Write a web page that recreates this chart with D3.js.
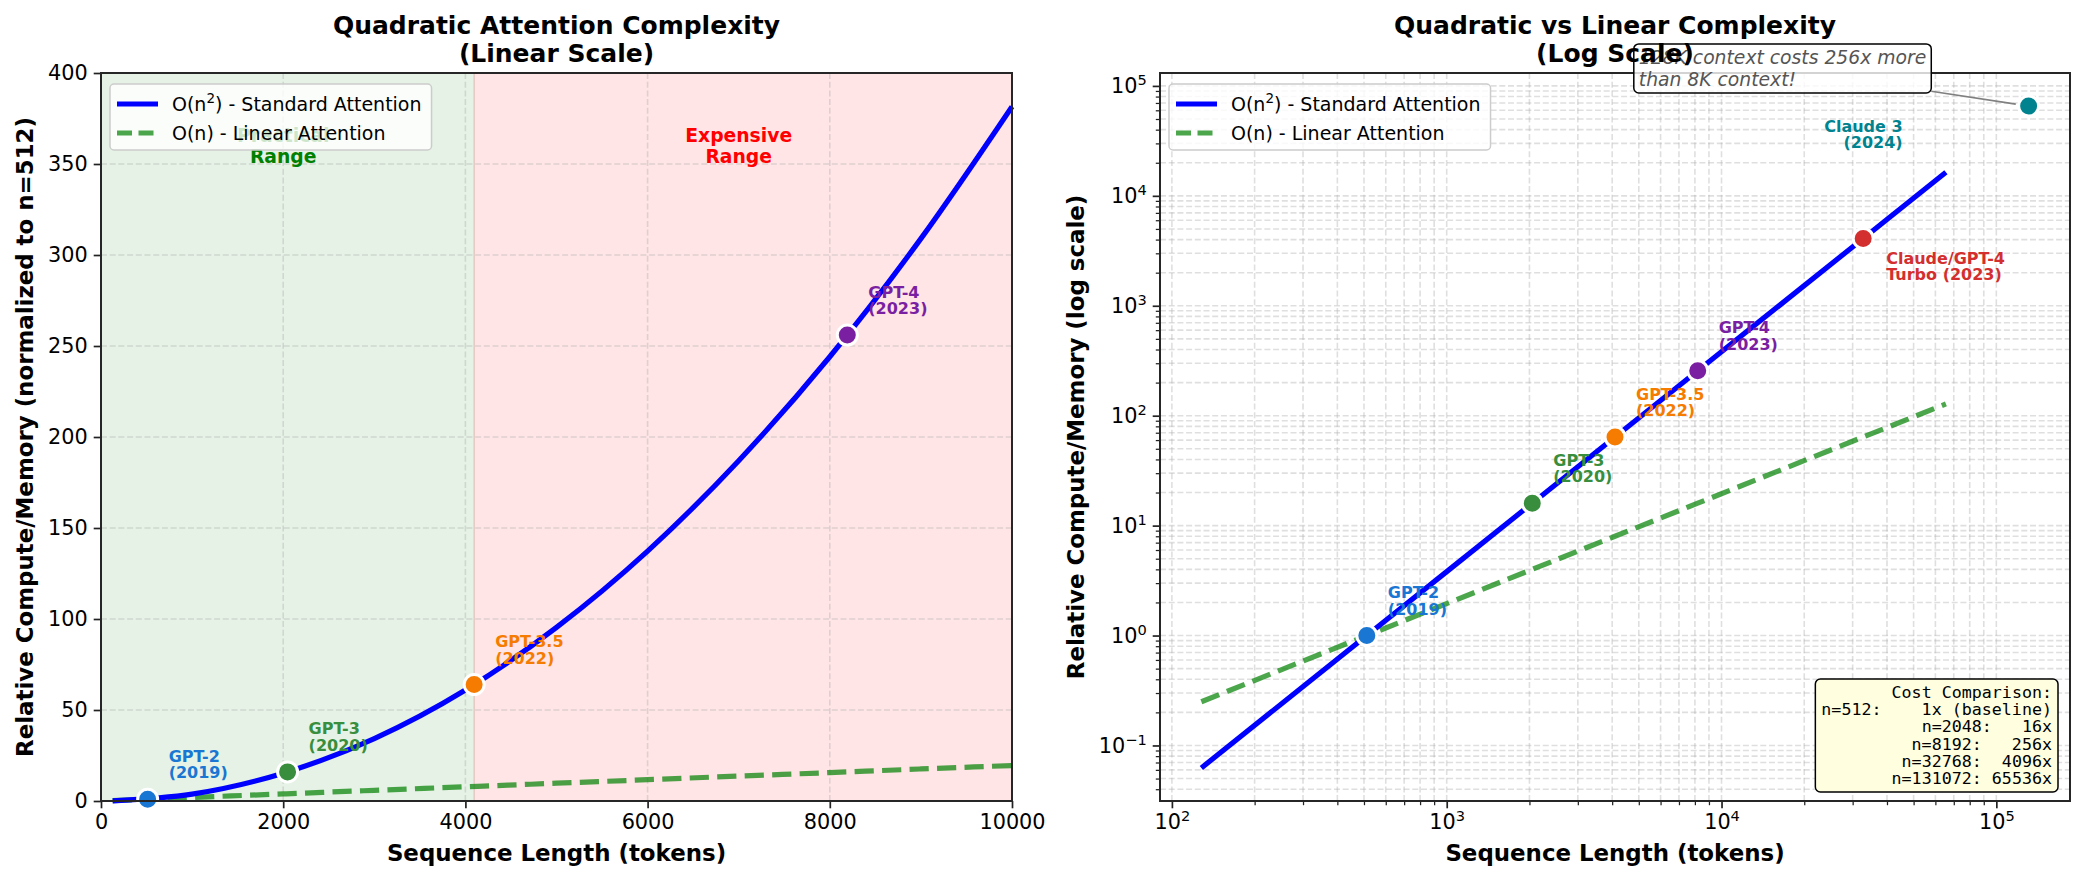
<!DOCTYPE html>
<html>
<head>
<meta charset="utf-8">
<script src="https://cdn.jsdelivr.net/npm/d3@7"></script>
<style>
  body { margin: 0; background: #fff; }
  svg text { font-family: "DejaVu Sans", sans-serif; }
</style>
</head>
<body>
<svg id="chart" width="2086" height="886"></svg>
<script>
// ---------------- data ----------------
// left panel (linear axes)
var linSeq   = [128, 1000, 2000, 3000, 4000, 5000, 6000, 7000, 8000, 9000, 10000];
var linQuad  = [0.06, 3.8, 15.3, 34.3, 61.0, 95.4, 137.3, 187.0, 244.1, 309.0, 381.5];
var linLin   = [0.25, 1.95, 3.9, 5.86, 7.81, 9.77, 11.7, 13.7, 15.6, 17.6, 19.5];

// right panel (log axes)
var logSeq   = [128, 256, 512, 1024, 2048, 4096, 8192, 16384, 32768, 65536];
var logQuad  = [0.0625, 0.25, 1, 4, 16, 64, 256, 1024, 4096, 16384];
var logLin   = [0.25, 0.5, 1, 2, 4, 8, 16, 32, 64, 128];

// model context windows
var modelLabels  = ["GPT-2\n(2019)", "GPT-3\n(2020)", "GPT-3.5\n(2022)", "GPT-4\n(2023)",
                    "Claude/GPT-4\nTurbo (2023)", "Claude 3\n(2024)"];
var modelContext = [512, 2048, 4096, 8192, 32768, 131072];
var modelCost    = [1, 16, 64, 256, 4096, 65536];
var modelColors  = ["#1976D2", "#388E3C", "#F57C00", "#7B1FA2", "#D32F2F", "#00838F"];

var leftXTicks = [0, 2000, 4000, 6000, 8000, 10000];
var leftYTicks = [0, 50, 100, 150, 200, 250, 300, 350, 400];

var costLines = ["Cost Comparison:", "n=512:    1x (baseline)", "n=2048:   16x",
                 "n=8192:   256x", "n=32768:  4096x", "n=131072: 65536x"];
var noteLines = ["128K context costs 256x more", "than 8K context!"];
var notePos = [5000, 1e5];

// ---------------- layout ----------------
var svg = d3.select("#chart");
var L = { x0: 101, x1: 1012, y0: 73, y1: 801 };
var R = { x0: 1160, x1: 2070, y0: 73, y1: 801 };

var gridStyle = function(sel) {
    sel.attr("stroke", "#b0b0b0").attr("stroke-opacity", 0.4)
       .attr("stroke-width", 1.6).attr("stroke-dasharray", "6,2.7");
};

function pairs(xs, ys) { return xs.map(function(v, i) { return [v, ys[i]]; }); }

// ================= LEFT PANEL =================
var xL = d3.scaleLinear().domain([0, 10000]).range([L.x0, L.x1]);
var yL = d3.scaleLinear().domain([0, 400]).range([L.y1, L.y0]);
var gL = svg.append("g");

// shaded ranges
gL.append("rect").attr("x", xL(0)).attr("y", L.y0)
    .attr("width", xL(4096) - xL(0)).attr("height", L.y1 - L.y0)
    .attr("fill", "green").attr("fill-opacity", 0.1);
gL.append("rect").attr("x", xL(4096)).attr("y", L.y0)
    .attr("width", xL(10000) - xL(4096)).attr("height", L.y1 - L.y0)
    .attr("fill", "red").attr("fill-opacity", 0.1);
gL.append("line").attr("x1", xL(4096)).attr("x2", xL(4096)).attr("y1", L.y0).attr("y2", L.y1)
    .attr("stroke", "#d9b9b5").attr("stroke-width", 1);

// grid
gL.selectAll("line.gx").data(leftXTicks).enter().append("line")
    .attr("x1", d => xL(d)).attr("x2", d => xL(d)).attr("y1", L.y0).attr("y2", L.y1).call(gridStyle);
gL.selectAll("line.gy").data(leftYTicks).enter().append("line")
    .attr("x1", L.x0).attr("x2", L.x1).attr("y1", d => yL(d)).attr("y2", d => yL(d)).call(gridStyle);

// range captions
function regionText(g, x, y, lines, color) {
    var t = g.append("text").attr("x", x).attr("y", y).attr("text-anchor", "middle")
        .style("font-size", "18.75px").style("font-weight", "bold").attr("fill", color);
    lines.forEach(function(s, i) {
        t.append("tspan").attr("x", x).attr("dy", i === 0 ? 0 : 21.5).text(s);
    });
}
regionText(gL, xL(2000), yL(360) - 4, ["Practical", "Range"], "green");
regionText(gL, xL(7000), yL(360) - 4, ["Expensive", "Range"], "red");

// curves
var lineL = d3.line().x(d => xL(d[0])).y(d => yL(d[1])).curve(d3.curveMonotoneX);
gL.append("path").datum(pairs(linSeq, linLin)).attr("d", lineL)
    .attr("fill", "none").attr("stroke", "green").attr("stroke-opacity", 0.7)
    .attr("stroke-width", 5.2).attr("stroke-dasharray", "19.2,8.3");
gL.append("path").datum(pairs(linSeq, linQuad)).attr("d", lineL)
    .attr("fill", "none").attr("stroke", "blue").attr("stroke-width", 5.2);

// ================= RIGHT PANEL =================
function logPad(lo, hi) {
    var a = Math.log10(lo), b = Math.log10(hi), p = (b - a) * 0.05;
    return [Math.pow(10, a - p), Math.pow(10, b + p)];
}
var xR = d3.scaleLog().domain(logPad(d3.min(logSeq), d3.max(modelContext))).range([R.x0, R.x1]);
var yR = d3.scaleLog().domain(logPad(d3.min(logQuad), d3.max(modelCost))).range([R.y1, R.y0]);
var gR = svg.append("g");

function logTicks(scale) {
    var d = scale.domain(), major = [], minor = [];
    for (var e = Math.floor(Math.log10(d[0])); e <= Math.ceil(Math.log10(d[1])); e++) {
        for (var m = 1; m < 10; m++) {
            var v = m * Math.pow(10, e);
            if (v < d[0] || v > d[1]) continue;
            (m === 1 ? major : minor).push(v);
        }
    }
    return { major: major, minor: minor };
}
var xRT = logTicks(xR), yRT = logTicks(yR);

gR.selectAll("line.gx").data(xRT.major.concat(xRT.minor)).enter().append("line")
    .attr("x1", d => xR(d)).attr("x2", d => xR(d)).attr("y1", R.y0).attr("y2", R.y1).call(gridStyle);
gR.selectAll("line.gy").data(yRT.major.concat(yRT.minor)).enter().append("line")
    .attr("x1", R.x0).attr("x2", R.x1).attr("y1", d => yR(d)).attr("y2", d => yR(d)).call(gridStyle);

var lineR = d3.line().x(d => xR(d[0])).y(d => yR(d[1]));
gR.append("path").datum(pairs(logSeq, logLin)).attr("d", lineR)
    .attr("fill", "none").attr("stroke", "green").attr("stroke-opacity", 0.7)
    .attr("stroke-width", 5.2).attr("stroke-dasharray", "19.2,8.3");
gR.append("path").datum(pairs(logSeq, logQuad)).attr("d", lineR)
    .attr("fill", "none").attr("stroke", "blue").attr("stroke-width", 5.2);

// ================= model points + labels =================
function drawModels(g, x, y, idx) {
    idx.forEach(function(i) {
        var px = x(modelContext[i]), py = y(modelCost[i]);
        g.append("circle").attr("cx", px).attr("cy", py).attr("r", 10)
            .attr("fill", modelColors[i]).attr("stroke", "#fff").attr("stroke-width", 3);
        var lines = modelLabels[i].split("\n");
        // default: up-right of the point; the two big ones sit below
        var dx = 21, base = -21, anchor = "start";
        if (modelContext[i] === 32768) { dx = 23; base = 42; }
        if (modelContext[i] === 131072) { dx = -126; base = 42; anchor = "end"; }
        var t = g.append("text").attr("text-anchor", anchor)
            .attr("fill", modelColors[i]).style("font-size", "16px").style("font-weight", "bold");
        lines.forEach(function(s, k) {
            t.append("tspan").attr("x", px + dx)
                .attr("y", py + base - (lines.length - 1 - k) * 16.5).text(s);
        });
    });
}
drawModels(gL, xL, yL, d3.range(modelContext.length).filter(i => modelContext[i] <= 10000));
drawModels(gR, xR, yR, d3.range(modelContext.length));

// ================= legends =================
function legend(g, x, y) {
    var box = g.append("rect").attr("x", x).attr("y", y).attr("rx", 4)
        .attr("height", 66).attr("fill", "#fff").attr("fill-opacity", 0.8)
        .attr("stroke", "#cccccc").attr("stroke-width", 1.5);
    g.append("line").attr("x1", x + 7).attr("x2", x + 48).attr("y1", y + 20).attr("y2", y + 20)
        .attr("stroke", "blue").attr("stroke-width", 5.2);
    g.append("line").attr("x1", x + 7).attr("x2", x + 48).attr("y1", y + 49).attr("y2", y + 49)
        .attr("stroke", "green").attr("stroke-opacity", 0.7).attr("stroke-width", 5.2)
        .attr("stroke-dasharray", "15,6.5");
    var t1 = g.append("text").attr("x", x + 62).attr("y", y + 27).style("font-size", "19px");
    t1.append("tspan").text("O(n");
    t1.append("tspan").attr("dy", -8).style("font-size", "13.5px").text("2");
    t1.append("tspan").attr("dy", 8).text(") - Standard Attention");
    var t2 = g.append("text").attr("x", x + 62).attr("y", y + 56).style("font-size", "19px")
        .text("O(n) - Linear Attention");
    var w = Math.max(t1.node().getBBox().width, t2.node().getBBox().width);
    box.attr("width", w + 62 + 10);
}
legend(gL, L.x0 + 9, L.y0 + 11);
legend(gR, R.x0 + 9, R.y0 + 11);

// ================= axes =================
function styleAxis(g) {
    g.select(".domain").remove();
    g.selectAll(".tick line").attr("stroke", "#222").attr("stroke-width", 1.7);
    g.selectAll(".tick text").attr("fill", "#000").style("font-size", "20.8px");
}
function supLabels(g) {
    g.selectAll(".tick text").each(function(d) {
        var t = d3.select(this), e = Math.round(Math.log10(d));
        t.text("10");
        t.append("tspan").attr("dy", "-0.55em").style("font-size", "14.6px")
            .text(e < 0 ? "\u2212" + (-e) : String(e));
    });
}

svg.append("g").attr("transform", "translate(0," + L.y1 + ")")
    .call(d3.axisBottom(xL).tickValues(leftXTicks).tickFormat(d3.format("d")).tickSize(7.3).tickPadding(6))
    .call(styleAxis);
svg.append("g").attr("transform", "translate(" + L.x0 + ",0)")
    .call(d3.axisLeft(yL).tickValues(leftYTicks).tickFormat(d3.format("d")).tickSize(7.3).tickPadding(6))
    .call(styleAxis);

svg.append("g").attr("transform", "translate(0," + R.y1 + ")")
    .call(d3.axisBottom(xR).tickValues(xRT.minor).tickFormat("").tickSize(4.2))
    .call(styleAxis).selectAll(".tick line").attr("stroke-width", 1.25);
svg.append("g").attr("transform", "translate(0," + R.y1 + ")")
    .call(d3.axisBottom(xR).tickValues(xRT.major).tickSize(7.3).tickPadding(6))
    .call(styleAxis).call(supLabels);
svg.append("g").attr("transform", "translate(" + R.x0 + ",0)")
    .call(d3.axisLeft(yR).tickValues(yRT.minor).tickFormat("").tickSize(4.2))
    .call(styleAxis).selectAll(".tick line").attr("stroke-width", 1.25);
svg.append("g").attr("transform", "translate(" + R.x0 + ",0)")
    .call(d3.axisLeft(yR).tickValues(yRT.major).tickSize(7.3).tickPadding(6))
    .call(styleAxis).call(supLabels);

// spines
[L, R].forEach(function(p) {
    svg.append("rect").attr("x", p.x0).attr("y", p.y0)
        .attr("width", p.x1 - p.x0).attr("height", p.y1 - p.y0)
        .attr("fill", "none").attr("stroke", "#262626").attr("stroke-width", 2);
});

// ================= cost comparison box =================
var cost = svg.append("text").attr("text-anchor", "end")
    .style("font-family", "'DejaVu Sans Mono', monospace").style("font-size", "16.67px")
    .style("white-space", "pre");
costLines.forEach(function(s, i) {
    cost.append("tspan").attr("x", R.x1 - 18).attr("y", R.y1 - 17 - (costLines.length - 1 - i) * 17.2).text(s);
});
var cb = cost.node().getBBox();
svg.insert("rect", function() { return cost.node(); })
    .attr("x", cb.x - 6).attr("y", cb.y - 4).attr("width", cb.width + 12).attr("height", cb.height + 8)
    .attr("rx", 5).attr("fill", "#ffffe0").attr("stroke", "#000").attr("stroke-width", 1.5);

// ================= annotation (128K vs 8K) =================
var nx = xR(notePos[0]), ny = yR(notePos[1]);
var note = svg.append("text").style("font-size", "18.75px").style("font-style", "italic")
    .attr("fill", "#555");
noteLines.forEach(function(s, i) {
    note.append("tspan").attr("x", nx).attr("y", ny - (noteLines.length - 1 - i) * 22).text(s);
});
var nb = note.node().getBBox();
var bx0 = nb.x - 5, by0 = nb.y - 3, bx1 = nb.x + nb.width + 5, by1 = nb.y + nb.height + 3;
var tx = xR(131072), ty = yR(65536);
var cx = (bx0 + bx1) / 2, cy = (by0 + by1) / 2;
var sy = cy + (ty - cy) * (bx1 - cx) / (tx - cx);
var ang = Math.atan2(ty - sy, tx - bx1);
svg.insert("line", function() { return note.node(); })
    .attr("x1", bx1).attr("y1", sy)
    .attr("x2", tx - 13 * Math.cos(ang)).attr("y2", ty - 13 * Math.sin(ang))
    .attr("stroke", "gray").attr("stroke-width", 1.6);
svg.insert("rect", function() { return note.node(); })
    .attr("x", bx0).attr("y", by0).attr("width", bx1 - bx0).attr("height", by1 - by0)
    .attr("rx", 5).attr("fill", "#fff").attr("fill-opacity", 0.8)
    .attr("stroke", "#000").attr("stroke-width", 1.5);

// ================= titles and axis labels =================
function title(p, lines) {
    var cx = (p.x0 + p.x1) / 2;
    lines.forEach(function(s, i) {
        svg.append("text").attr("x", cx).attr("y", 34 + i * 28).attr("text-anchor", "middle")
            .style("font-size", "25px").style("font-weight", "bold").text(s);
    });
}
title(L, ["Quadratic Attention Complexity", "(Linear Scale)"]);
title(R, ["Quadratic vs Linear Complexity", "(Log Scale)"]);

function xLabel(p, s) {
    svg.append("text").attr("x", (p.x0 + p.x1) / 2).attr("y", 861).attr("text-anchor", "middle")
        .style("font-size", "22.9px").style("font-weight", "bold").text(s);
}
function yLabel(p, x, s) {
    svg.append("text").attr("transform", "translate(" + x + "," + (p.y0 + p.y1) / 2 + ") rotate(-90)")
        .attr("text-anchor", "middle").attr("dominant-baseline", "central")
        .style("font-size", "22.9px").style("font-weight", "bold").text(s);
}
xLabel(L, "Sequence Length (tokens)");
xLabel(R, "Sequence Length (tokens)");
yLabel(L, 25, "Relative Compute/Memory (normalized to n=512)");
yLabel(R, 1076, "Relative Compute/Memory (log scale)");
</script>
</body>
</html>
